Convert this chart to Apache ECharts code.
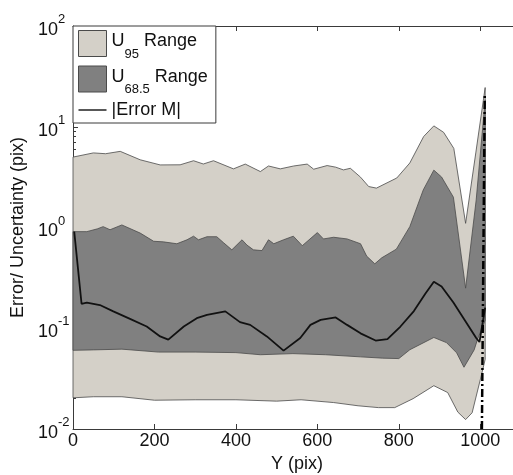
<!DOCTYPE html>
<html>
<head>
<meta charset="utf-8">
<script src="https://cdn.jsdelivr.net/npm/echarts@6/dist/echarts.min.js"></script>
<style>
  html, body { margin: 0; padding: 0; background: #fff; }
  #chart { width: 513px; height: 475px; }
</style>
</head>
<body>
<div id="chart"></div>
<script>
// Upper and lower limits of the 95 % uncertainty band (x = image row Y, pix)
const u95UpperY = [0, 50, 80, 116, 165, 214, 263, 296, 320, 345, 394, 423, 460, 480, 509, 542, 575, 591, 624, 645, 664, 681, 706, 726, 745, 795, 827, 861, 886, 910, 935, 964, 989, 1012];
const u95Upper  = [5.0, 5.5, 5.4, 5.7, 4.7, 4.18, 4.19, 4.6, 4.27, 4.6, 3.82, 4.26, 3.59, 4.08, 3.82, 4.08, 4.26, 3.79, 4.12, 3.97, 3.73, 3.87, 3.16, 2.55, 2.46, 3.1, 4.37, 8.0, 10.2, 8.8, 6.1, 1.10, 5.5, 24.5];
const u95LowerY = [0, 50, 120, 200, 300, 400, 500, 560, 640, 700, 750, 790, 835, 886, 920, 945, 964, 980, 1001, 1012];
const u95Lower  = [0.0204, 0.0209, 0.0209, 0.0193, 0.0195, 0.0195, 0.0189, 0.0195, 0.0183, 0.017, 0.0163, 0.0163, 0.0200, 0.0269, 0.0230, 0.0147, 0.0124, 0.0145, 0.032, 0.049];

// Upper and lower limits of the 68.5 % uncertainty band
const u68UpperY = [0, 34, 60, 74, 91, 120, 165, 198, 222, 255, 280, 296, 308, 329, 353, 369, 390, 415, 427, 443, 464, 480, 493, 517, 541, 563, 600, 615, 640, 673, 706, 721, 741, 758, 794, 827, 860, 886, 905, 934, 964, 990, 1012];
const u68Upper  = [0.91, 0.91, 0.97, 1.02, 0.95, 1.06, 0.88, 0.73, 0.72, 0.69, 0.755, 0.82, 0.755, 0.81, 0.81, 0.71, 0.60, 0.755, 0.67, 0.60, 0.59, 0.755, 0.69, 0.755, 0.82, 0.66, 0.89, 0.77, 0.80, 0.77, 0.69, 0.52, 0.436, 0.50, 0.61, 1.02, 2.36, 3.71, 3.17, 2.0, 0.25, 1.88, 18.5];
const u68LowerY = [0, 50, 120, 210, 300, 400, 460, 540, 620, 706, 760, 800, 827, 886, 917, 942, 960, 985, 993, 1012];
const u68Lower  = [0.0604, 0.061, 0.062, 0.058, 0.058, 0.0573, 0.0546, 0.056, 0.0546, 0.052, 0.0505, 0.050, 0.0612, 0.081, 0.072, 0.057, 0.041, 0.061, 0.077, 0.12];

// Absolute measured error |Error M|
const errorY = [3, 21, 34, 66, 99, 140, 181, 214, 234, 272, 304, 329, 374, 410, 435, 476, 517, 558, 583, 608, 645, 673, 706, 743, 772, 804, 837, 865, 886, 905, 934, 962, 990, 998, 1012];
const errorM = [0.91, 0.175, 0.18, 0.17, 0.147, 0.124, 0.104, 0.083, 0.077, 0.104, 0.126, 0.136, 0.147, 0.115, 0.108, 0.083, 0.060, 0.080, 0.108, 0.121, 0.128, 0.108, 0.089, 0.0755, 0.078, 0.104, 0.148, 0.22, 0.29, 0.26, 0.18, 0.12, 0.080, 0.073, 0.16];

// Image edge marker (dash-dot)
const edgeY = [1004, 1011];
const edgeV = [0.01, 21];

// Axis settings
const xTicks = [0, 200, 400, 600, 800, 1000];
const yDecades = [-2, -1, 0, 1, 2];

const FONT = '"Liberation Sans", Arial, Helvetica, sans-serif';
const LIGHT = '#d4d0c8';
const DARK = '#808080';
const EDGE = '#4a4a4a';
const INK = '#111111';

// log10 positions of the 2..9 minor ticks of every decade
const minorLog = [];
for (let d = yDecades[0]; d < yDecades[yDecades.length - 1]; d++) {
  for (let m = 2; m <= 9; m++) minorLog.push(d + Math.log10(m));
}

function pairs(xs, vs) { return xs.map((x, i) => [x, vs[i]]); }

// Closed polygon between an upper and a lower curve, placed through the axes
function band(name, upX, upV, loX, loV, fill) {
  return {
    name: name,
    type: 'custom',
    coordinateSystem: 'cartesian2d',
    xAxisIndex: 0, yAxisIndex: 0,
    silent: true,
    data: [[upX[0], upV[0]]],
    renderItem: function (params, api) {
      const pts = [];
      for (let i = 0; i < upX.length; i++) pts.push(api.coord([upX[i], upV[i]]));
      for (let i = loX.length - 1; i >= 0; i--) pts.push(api.coord([loX[i], loV[i]]));
      return {
        type: 'polygon',
        shape: { points: pts },
        style: { fill: fill, stroke: EDGE, lineWidth: 0.8 }
      };
    }
  };
}

const legendText = {
  'U95 Range': '{m|U}{s|95}{m| Range}',
  'U68.5 Range': '{m|U}{s|68.5}{m| Range}',
  '|Error M|': '{p||Error M|}'
};

const chart = echarts.init(document.getElementById('chart'), null, { renderer: 'canvas' });

chart.setOption({
  backgroundColor: '#ffffff',
  animation: false,
  textStyle: { fontFamily: FONT },
  grid: { left: 73, top: 26, width: 448, height: 403, containLabel: false, outerBoundsMode: 'none' },
  legend: {
    left: 73, top: 26,
    orient: 'vertical',
    selectedMode: false,
    itemWidth: 28, itemHeight: 26, itemGap: 5,
    padding: [4, 8, 4, 5],
    backgroundColor: '#ffffff',
    borderColor: '#3a3a3a', borderWidth: 1, borderRadius: 0,
    formatter: function (name) { return legendText[name]; },
    textStyle: {
      fontFamily: FONT, fontSize: 18, color: INK,
      rich: {
        m: { fontFamily: FONT, fontSize: 18, color: INK, lineHeight: 22, verticalAlign: 'top' },
        s: { fontFamily: FONT, fontSize: 13, color: INK, lineHeight: 13, verticalAlign: 'top', padding: [15, 0, 0, 0] },
        p: { fontFamily: FONT, fontSize: 18, color: INK, lineHeight: 22 }
      }
    },
    data: [
      { name: 'U95 Range', icon: 'rect', itemStyle: { color: LIGHT, borderColor: EDGE, borderWidth: 1 } },
      { name: 'U68.5 Range', icon: 'rect', itemStyle: { color: DARK, borderColor: EDGE, borderWidth: 1 } },
      { name: '|Error M|', icon: 'path://M0,0H28V1.4H0Z', itemStyle: { color: INK, borderWidth: 0 } }
    ]
  },
  xAxis: [
    {
      type: 'value', position: 'bottom',
      min: 0, max: 1100, interval: 200,
      name: 'Y (pix)', nameLocation: 'middle', nameGap: 22,
      nameTextStyle: { fontFamily: FONT, fontSize: 18, color: INK },
      axisLine: { show: true, onZero: false, lineStyle: { color: '#3a3a3a', width: 1 } },
      axisTick: { show: true, inside: true, length: 5, lineStyle: { color: '#3a3a3a' } },
      axisLabel: {
        fontFamily: FONT, fontSize: 18, color: INK, margin: 3,
        showMaxLabel: false,
        formatter: function (v) { return xTicks.indexOf(v) >= 0 ? String(v) : ''; }
      },
      splitLine: { show: false }
    },
    {
      type: 'value', position: 'top',
      min: 0, max: 1100, interval: 200,
      axisLine: { show: true, onZero: false, lineStyle: { color: '#3a3a3a', width: 1 } },
      axisTick: { show: true, inside: true, length: 5, lineStyle: { color: '#3a3a3a' } },
      axisLabel: { show: false },
      splitLine: { show: false }
    }
  ],
  yAxis: [
    {
      type: 'log', logBase: 10,
      min: 0.01, max: 100,
      position: 'left',
      name: 'Error/ Uncertainty (pix)', nameLocation: 'middle', nameGap: 45,
      nameTextStyle: { fontFamily: FONT, fontSize: 18, color: INK },
      axisLine: { show: true, onZero: false, lineStyle: { color: '#3a3a3a', width: 1 } },
      axisTick: { show: true, inside: true, length: 5, lineStyle: { color: '#3a3a3a' } },
      axisLabel: {
        align: 'left', margin: 35,
        formatter: function (v) {
          return '{b|10}{e|' + Math.round(Math.log10(v)) + '}';
        },
        rich: {
          b: { fontFamily: FONT, fontSize: 18, color: INK, lineHeight: 26, verticalAlign: 'bottom' },
          e: { fontFamily: FONT, fontSize: 13, color: INK, lineHeight: 13, verticalAlign: 'top' }
        }
      },
      splitLine: { show: false }
    },
    {
      // minor ticks of the log axis, laid out in log10 units
      type: 'value', position: 'left',
      min: yDecades[0], max: yDecades[yDecades.length - 1], interval: 1,
      axisLine: { show: false },
      axisTick: { show: true, inside: true, length: 3, customValues: minorLog, lineStyle: { color: '#3a3a3a' } },
      axisLabel: { show: false },
      splitLine: { show: false }
    }
  ],
  series: [
    band('U95 Range', u95UpperY, u95Upper, u95LowerY, u95Lower, LIGHT),
    band('U68.5 Range', u68UpperY, u68Upper, u68LowerY, u68Lower, DARK),
    {
      name: '|Error M|', type: 'line',
      xAxisIndex: 0, yAxisIndex: 0,
      data: pairs(errorY, errorM),
      symbol: 'none', smooth: false,
      lineStyle: { color: INK, width: 1.8 },
      itemStyle: { color: INK },
      z: 3
    },
    {
      name: 'edge', type: 'line',
      xAxisIndex: 0, yAxisIndex: 0,
      data: pairs(edgeY, edgeV),
      symbol: 'none',
      lineStyle: { color: '#000', width: 2.5, type: [8, 3, 2, 3] },
      z: 4
    }
  ]
});
</script>
</body>
</html>
